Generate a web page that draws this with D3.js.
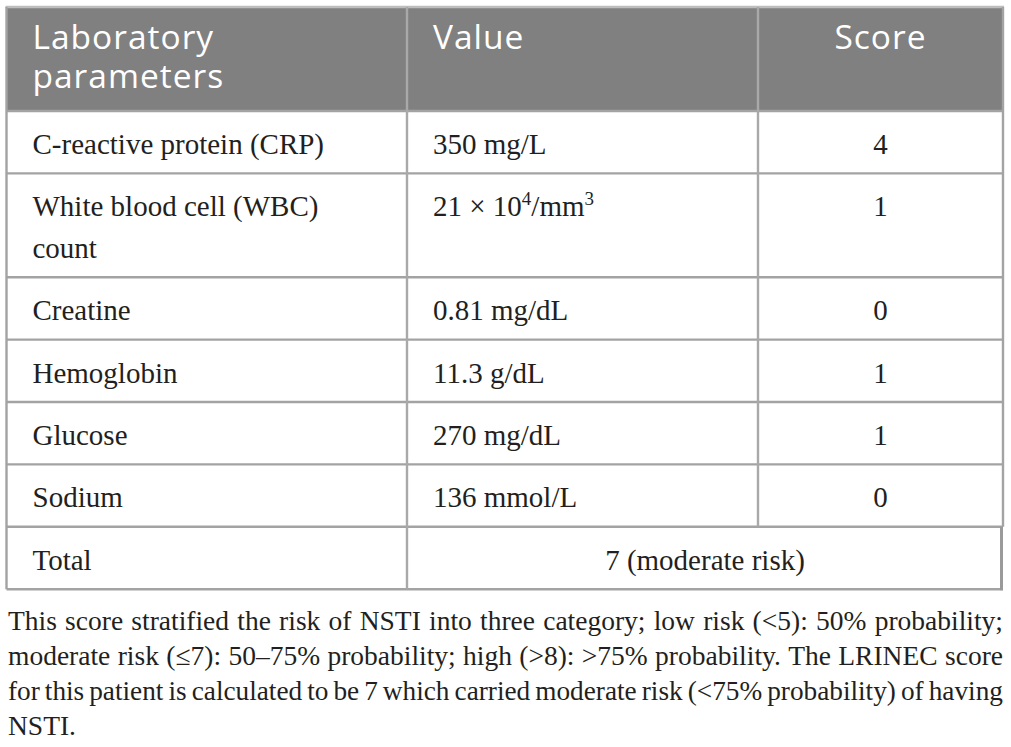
<!DOCTYPE html>
<html>
<head>
<meta charset="utf-8">
<script src="https://cdn.jsdelivr.net/npm/d3@7/dist/d3.min.js"></script>
<style>
  html, body { margin: 0; padding: 0; background: #ffffff; }
  svg { display: block; }
</style>
</head>
<body>
<svg id="chart" width="1011" height="747"></svg>
<script>
// ---------------- data ----------------
const headers = [["Laboratory", "parameters"], ["Value"], ["Score"]];
const parameters = [
  ["C-reactive protein (CRP)"],
  ["White blood cell (WBC)", "count"],
  ["Creatine"],
  ["Hemoglobin"],
  ["Glucose"],
  ["Sodium"]
];
const values = ["350 mg/L", "21 × 10^4/mm^3", "0.81 mg/dL", "11.3 g/dL", "270 mg/dL", "136 mmol/L"];
const scores = ["4", "1", "0", "1", "1", "0"];
const totalLabel = "Total";
const totalValue = "7 (moderate risk)";
const footnoteLines = [
  "This score stratified the risk of NSTI into three category; low risk (<5): 50% probability;",
  "moderate risk (≤7): 50–75% probability; high (>8): >75% probability. The LRINEC score",
  "for this patient is calculated to be 7 which carried moderate risk (<75% probability) of having",
  "NSTI."
];

// ---------------- layout ----------------
const svg = d3.select("#chart");
const colEdges = [6.5, 407, 758, 1003];
const x = d3.scaleOrdinal().domain([0, 1, 2]).range(colEdges.slice(0, 3));
const padL = 26;
const lineH = 41.4;
const rowPad = 21;
const headLineH = 39;
const top0 = 7;

const bodyFont = "'Liberation Serif', 'Times New Roman', serif";
const headFont = "'Open Sans', 'DejaVu Sans', sans-serif";
const textColor = "#231f20";
const lineColor = "#a3a3a3";

// row geometry
const headerH = rowPad + lineH * headers[0].length + 0.2;
const rows = parameters.map((p, i) => ({ label: p, value: values[i], score: scores[i], n: p.length }));
rows.push({ label: [totalLabel], value: totalValue, score: null, n: 1, total: true });
let yCursor = top0 + headerH;
rows.forEach(r => { r.y0 = yCursor; r.h = rowPad + lineH * r.n; yCursor += r.h; r.y1 = yCursor; });
const tableBottom = yCursor;

// header background
svg.append("rect")
  .attr("x", colEdges[0]).attr("y", top0)
  .attr("width", colEdges[3] - colEdges[0]).attr("height", headerH)
  .attr("fill", "#808080");

// header text
const headG = svg.append("g").attr("font-family", headFont).attr("font-size", 33.5)
  .attr("fill", "#ffffff").style("letter-spacing", "1px");
headers.forEach((lines, c) => {
  lines.forEach((ln, i) => {
    const tx = c === 2 ? (colEdges[2] + colEdges[3]) / 2 : x(c) + padL;
    headG.append("text").attr("x", tx).attr("y", top0 + 41.5 + i * headLineH)
      .attr("text-anchor", c === 2 ? "middle" : "start").text(ln);
  });
});

// body text
const bodyG = svg.append("g").attr("font-family", bodyFont).attr("font-size", 29).attr("fill", textColor);
function drawRich(sel, str, tx, ty) {
  const t = sel.append("text").attr("x", tx).attr("y", ty);
  const parts = str.split(/(\^\d)/).filter(s => s.length);
  let shift = 0;
  parts.forEach(p => {
    if (p[0] === "^") {
      t.append("tspan").attr("dy", -11 - shift).attr("font-size", 19).text(p.slice(1));
      shift = -11;
    } else {
      t.append("tspan").attr("dy", -shift).text(p);
      shift = 0;
    }
  });
  return t;
}
rows.forEach(r => {
  r.label.forEach((ln, i) => {
    bodyG.append("text").attr("x", x(0) + padL).attr("y", r.y0 + 43 + i * lineH).text(ln);
  });
  if (r.total) {
    bodyG.append("text").attr("x", (colEdges[1] + colEdges[3]) / 2).attr("y", r.y0 + 43)
      .attr("text-anchor", "middle").text(r.value);
  } else {
    drawRich(bodyG, r.value, x(1) + padL, r.y0 + 43);
    bodyG.append("text").attr("x", (colEdges[2] + colEdges[3]) / 2).attr("y", r.y0 + 43)
      .attr("text-anchor", "middle").text(r.score);
  }
});

// grid lines
const gridG = svg.append("g").attr("stroke", lineColor).attr("stroke-width", 2.4).attr("fill", "none");
gridG.append("line").attr("x1", colEdges[0] - 1).attr("x2", colEdges[3] + 1).attr("y1", top0).attr("y2", top0).attr("stroke", "#bdbdbd");
gridG.append("line").attr("x1", colEdges[0]).attr("x2", colEdges[3]).attr("y1", top0 + headerH).attr("y2", top0 + headerH);
rows.forEach(r => {
  gridG.append("line").attr("x1", colEdges[0]).attr("x2", colEdges[3]).attr("y1", r.y1).attr("y2", r.y1);
});
gridG.append("line").attr("x1", colEdges[0]).attr("x2", colEdges[0]).attr("y1", top0).attr("y2", tableBottom);
gridG.append("line").attr("x1", colEdges[1]).attr("x2", colEdges[1]).attr("y1", top0).attr("y2", tableBottom).attr("stroke", "#a9a9a9");
const lastScoreRow = rows[rows.length - 2];
gridG.append("line").attr("x1", colEdges[2]).attr("x2", colEdges[2]).attr("y1", top0).attr("y2", lastScoreRow.y1).attr("stroke", "#a9a9a9");
gridG.append("line").attr("x1", colEdges[3]).attr("x2", colEdges[3]).attr("y1", top0).attr("y2", lastScoreRow.y1);
const tr = rows[rows.length - 1];
gridG.append("line").attr("x1", colEdges[3] - 1.5).attr("x2", colEdges[3] - 1.5).attr("y1", tr.y0).attr("y2", tr.y1 + 1).attr("stroke", "#9a9a9a").attr("stroke-width", 3);

// footnote (justified)
const footG = svg.append("g").attr("font-family", bodyFont).attr("font-size", 27.5).attr("fill", textColor);
const fx0 = 8, fx1 = 1003;
const measure = footG.append("text").attr("x", -1000).attr("y", -1000).text("x");
function wordWidth(w) { measure.text(w); return measure.node().getComputedTextLength(); }
footnoteLines.forEach((ln, i) => {
  const fy = 630 + i * 35;
  const isLast = i === footnoteLines.length - 1;
  if (isLast) {
    footG.append("text").attr("x", fx0).attr("y", fy).text(ln);
    return;
  }
  const words = ln.split(" ");
  const widths = words.map(wordWidth);
  const sum = d3.sum(widths);
  let gap = (fx1 - fx0 - sum) / (words.length - 1);
  let scale = 1;
  const minGap = 5;
  if (gap < minGap) {
    gap = minGap;
    scale = (fx1 - fx0 - minGap * (words.length - 1)) / sum;
  }
  const g = footG.append("g").attr("transform", `translate(${fx0},${fy}) scale(${scale},1)`);
  let cx = 0;
  words.forEach((w, k) => {
    g.append("text").attr("x", cx).attr("y", 0).text(w);
    cx += widths[k] + gap / scale;
  });
});
measure.remove();
</script>
</body>
</html>
